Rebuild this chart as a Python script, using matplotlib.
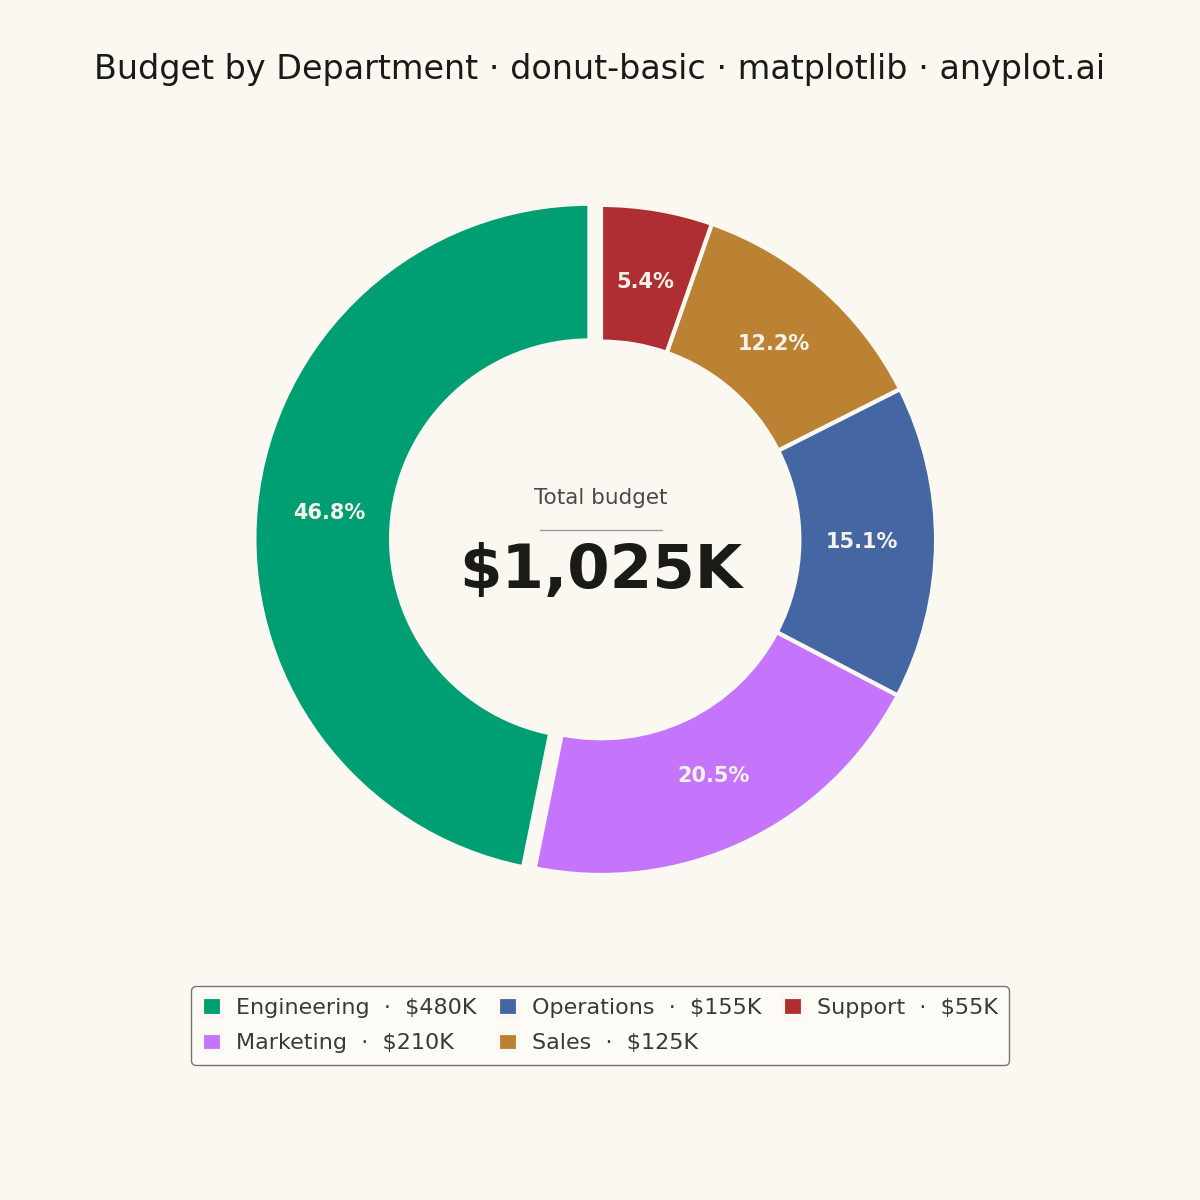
import numpy as np
import matplotlib.pyplot as plt

departments = ["Engineering", "Marketing", "Operations", "Sales", "Support"]
budget_k = [480, 210, 155, 125, 55]
colors = ["#009E73", "#C475FB", "#4467A3", "#BC8233", "#AE2E31"]

bg = "#FAF8F1"
total = sum(budget_k)

fig = plt.figure(figsize=(12, 12), dpi=100, facecolor=bg)
ax = fig.add_axes([0.1675, 0.2167, 0.6667, 0.6667])
ax.set_facecolor(bg)

explode = [0.035, 0, 0, 0, 0]
wedges, texts, autotexts = ax.pie(
    budget_k,
    colors=colors,
    startangle=90,
    counterclock=True,
    explode=explode,
    radius=1.005,
    autopct="%1.1f%%",
    pctdistance=0.78,
    wedgeprops=dict(width=0.41, edgecolor=bg, linewidth=3),
    textprops=dict(color="#F5F2EA", fontsize=15, fontweight="bold"),
)

ax.set_xlim(-1.2, 1.2)
ax.set_ylim(-1.2, 1.2)
ax.set_aspect("equal")
ax.axis("off")

# centre annotation
ax.text(0, 0.126, "Total budget", ha="center", va="center", fontsize=15.5, color="#4A4A48")
ax.plot([-0.183, 0.183], [0.03, 0.03], color="#999999", lw=1)
ax.text(0, -0.095, f"${total:,}K", ha="center", va="center", fontsize=44,
        fontweight="bold", color="#1A1A17")

fig.suptitle("Budget by Department · donut-basic · matplotlib · anyplot.ai",
             y=0.9417, va="center", fontsize=24, color="#1A1A17")

labels = [f"{d}  ·  ${v}K" for d, v in zip(departments, budget_k)]
leg = fig.legend(wedges, labels, loc="upper center", bbox_to_anchor=(0.5, 0.1875),
                 ncol=3, fontsize=16, frameon=True, facecolor="#FFFDF8",
                 edgecolor="#555555", labelcolor="#3A3A38", handlelength=0.9,
                 handleheight=0.9, columnspacing=1.0, handletextpad=0.6,
                 labelspacing=0.65, borderpad=0.5)
leg.get_frame().set_linewidth(1)

fig.savefig("out.png", dpi=100, facecolor=bg)
